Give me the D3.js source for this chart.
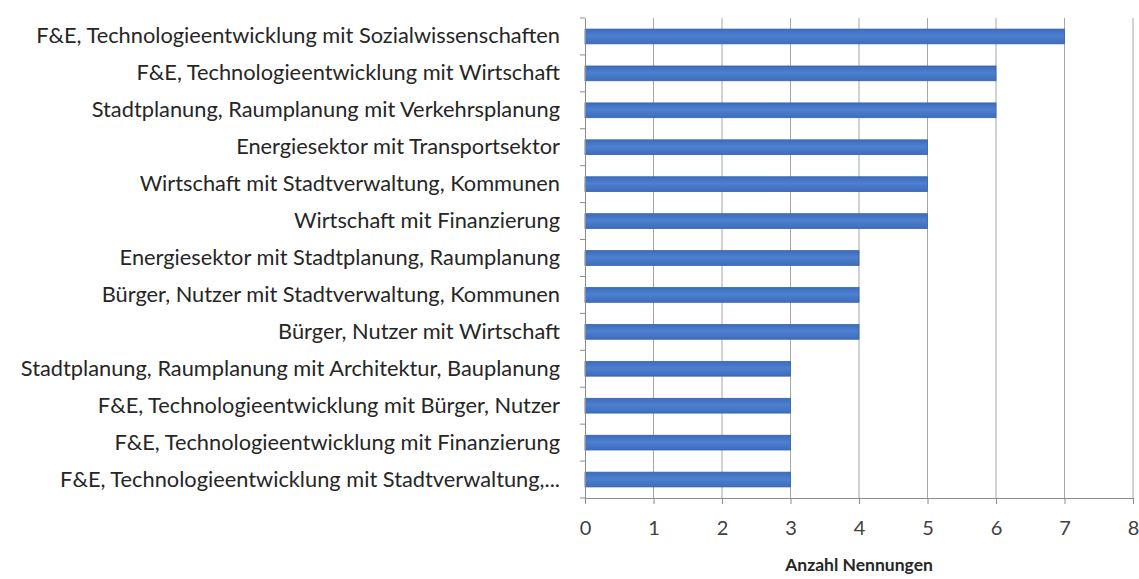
<!DOCTYPE html>
<html><head><meta charset="utf-8">
<script src="https://cdn.jsdelivr.net/npm/d3@7"></script>
<style>body{margin:0;background:#fff;} svg{display:block;}</style>
</head><body>
<svg id="c" width="1139" height="579"></svg>
<script>
const categories = [
  "F&E, Technologieentwicklung mit Sozialwissenschaften",
  "F&E, Technologieentwicklung mit Wirtschaft",
  "Stadtplanung, Raumplanung mit Verkehrsplanung",
  "Energiesektor mit Transportsektor",
  "Wirtschaft mit Stadtverwaltung, Kommunen",
  "Wirtschaft mit Finanzierung",
  "Energiesektor mit Stadtplanung, Raumplanung",
  "Bürger, Nutzer mit Stadtverwaltung, Kommunen",
  "Bürger, Nutzer mit Wirtschaft",
  "Stadtplanung, Raumplanung mit Architektur, Bauplanung",
  "F&E, Technologieentwicklung mit Bürger,  Nutzer",
  "F&E, Technologieentwicklung mit Finanzierung",
  "F&E, Technologieentwicklung mit Stadtverwaltung,..."
];
const values = [7, 6, 6, 5, 5, 5, 4, 4, 4, 3, 3, 3, 3];
const xTicks = [0, 1, 2, 3, 4, 5, 6, 7, 8];
const xTitle = "Anzahl Nennungen";

const svg = d3.select("#c");
const m = {left: 585, right: 1133, top: 18, bottom: 498};
const x = d3.scaleLinear().domain([0, 8]).range([m.left, m.right]);
const y = d3.scaleBand().domain(categories).range([m.top, m.bottom]).paddingInner(0.6).paddingOuter(0.3);
const font = "Lato, 'Open Sans', sans-serif";

// gridlines
svg.append("g").selectAll("line").data(xTicks.filter(d => d > 0)).join("line")
  .attr("x1", d => x(d)).attr("x2", d => x(d))
  .attr("y1", m.top).attr("y2", m.bottom)
  .attr("stroke", "#a6a6a6").attr("stroke-width", 1);

const defs = svg.append("defs");
const g = defs.append("linearGradient").attr("id", "bg").attr("x1", 0).attr("x2", 0).attr("y1", 0).attr("y2", 1);
g.append("stop").attr("offset", "0%").attr("stop-color", "#3d6cbc");
g.append("stop").attr("offset", "45%").attr("stop-color", "#4d80cf");
g.append("stop").attr("offset", "100%").attr("stop-color", "#3e6dbd");

// bars
svg.append("g").selectAll("rect").data(values).join("rect")
  .attr("x", x(0))
  .attr("y", (d, i) => y(categories[i]))
  .attr("width", d => x(d) - x(0))
  .attr("height", y.bandwidth())
  .attr("fill", "url(#bg)")
  .attr("stroke", "#3862ab").attr("stroke-width", 0.8);

// x axis
const xAxis = svg.append("g").attr("transform", `translate(0,${m.bottom})`)
  .call(d3.axisBottom(x).tickValues(xTicks).tickSize(6).tickPadding(17).tickFormat(d3.format("d")));
xAxis.select(".domain").attr("stroke", "#8c8c8c");
xAxis.selectAll(".tick line").attr("stroke", "#8c8c8c");
xAxis.selectAll("text").attr("font-family", font).attr("font-size", 20).attr("fill", "#404040");

// y axis
const yAxis = svg.append("g").attr("transform", `translate(${m.left},0)`)
  .call(d3.axisLeft(y).tickSize(0).tickPadding(25));
yAxis.select(".domain").attr("stroke", "#8c8c8c");
yAxis.selectAll("text").attr("font-family", font).attr("font-size", 21.8).attr("fill", "#262626");
svg.append("g").selectAll("line").data(d3.range(categories.length + 1)).join("line")
  .attr("x1", m.left - 5).attr("x2", m.left)
  .attr("y1", i => m.top + i * (m.bottom - m.top) / categories.length)
  .attr("y2", i => m.top + i * (m.bottom - m.top) / categories.length)
  .attr("stroke", "#8c8c8c");

svg.append("text").attr("x", 859).attr("y", 571).attr("text-anchor", "middle")
  .attr("font-family", font).attr("font-size", 17.5).attr("font-weight", "bold").attr("fill", "#262626").text(xTitle);
</script>
</body></html>
